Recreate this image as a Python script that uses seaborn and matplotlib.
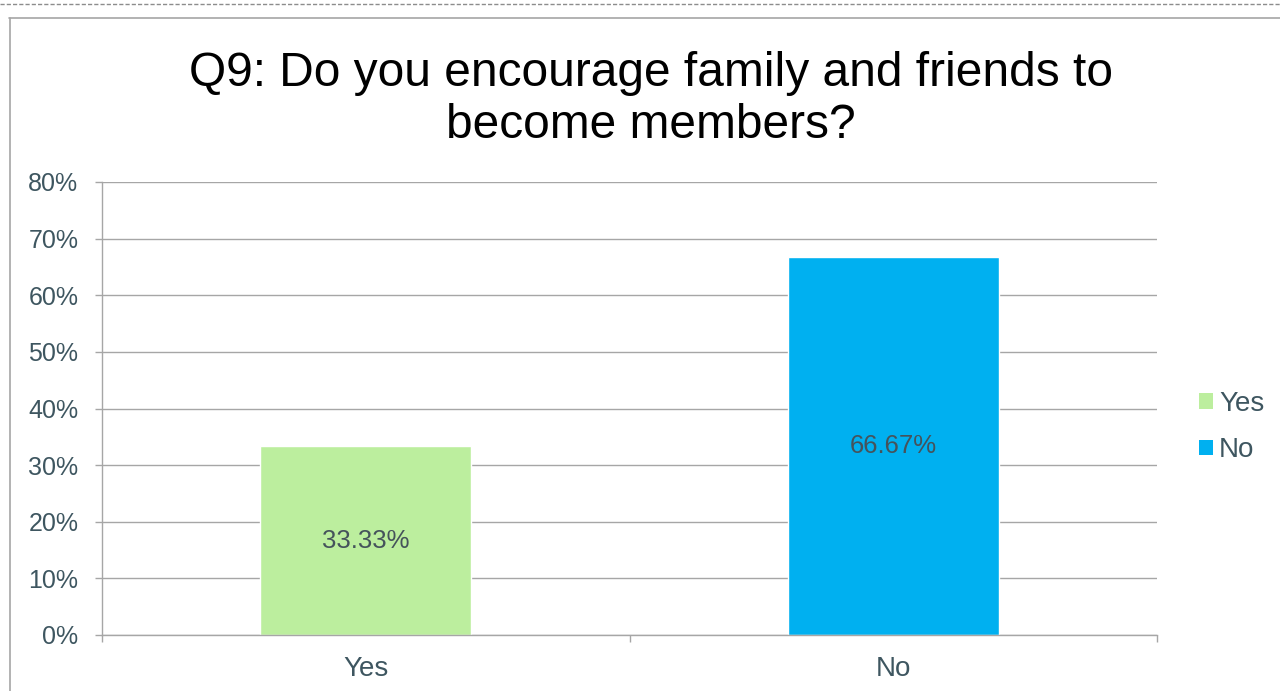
import matplotlib
matplotlib.use("Agg")
import matplotlib.pyplot as plt
import seaborn as sns
import pandas as pd
from matplotlib.lines import Line2D
from matplotlib.patches import Patch
from matplotlib.ticker import FixedLocator, PercentFormatter

categories = ["Yes", "No"]
values = [33.33, 66.67]
value_labels = ["33.33%", "66.67%"]
colors = ["#BCEE9E", "#00B0F0"]
yticks = [0, 10, 20, 30, 40, 50, 60, 70, 80]
title_lines = ["Q9: Do you encourage family and friends to", "become members?"]

sns.set_theme(style="white")
plt.rcParams["font.family"] = ["Liberation Sans", "DejaVu Sans"]

W, H = 1280, 691
fig = plt.figure(figsize=(W / 100, H / 100), dpi=100)
fig.patch.set_facecolor("white")

# frame lines
fig.add_artist(Line2D([0, 1], [1 - 4 / H, 1 - 4 / H], transform=fig.transFigure,
                      color="#8C8C8C", lw=1, ls=(0, (3, 1.5))))
fig.add_artist(Line2D([9 / W, 1], [1 - 17.5 / H, 1 - 17.5 / H], transform=fig.transFigure,
                      color="#A6A6A6", lw=1.2))
fig.add_artist(Line2D([9.5 / W, 9.5 / W], [0, 1 - 17.5 / H], transform=fig.transFigure,
                      color="#A6A6A6", lw=1.2))

left, right, top, bottom = 102, 1157, 182, 635
ax = fig.add_axes([left / W, 1 - bottom / H, (right - left) / W, (bottom - top) / H])

df = pd.DataFrame({"cat": categories, "val": values})
sns.barplot(data=df, x="cat", y="val", hue="cat", palette=colors, width=0.4,
            legend=False, ax=ax, saturation=1)

txt_color = "#3E5660"
grid_color = "#A6A6A6"

ax.set_xlim(-0.5, 1.5)
ax.set_ylim(0, 80)
ax.yaxis.set_major_locator(FixedLocator(yticks))
ax.yaxis.set_major_formatter(PercentFormatter(decimals=0))
ax.set_axisbelow(True)
ax.yaxis.grid(True, color=grid_color, lw=1)
ax.xaxis.grid(False)
for s in ["top", "right"]:
    ax.spines[s].set_visible(False)
for s in ["left", "bottom"]:
    ax.spines[s].set_color(grid_color)
    ax.spines[s].set_linewidth(1)

ax.set_xlabel("")
ax.set_ylabel("")
ax.tick_params(axis="y", which="major", length=5, width=1, color=grid_color,
               labelsize=18, labelcolor=txt_color, pad=12, left=True)
ax.tick_params(axis="x", which="major", length=0, labelsize=20, labelcolor=txt_color, pad=15)
ax.set_xticks([-0.5, 0.5, 1.5], minor=True)
ax.tick_params(axis="x", which="minor", length=5, width=1, color=grid_color, bottom=True)

for i, (v, lab) in enumerate(zip(values, value_labels)):
    ax.text(i, v / 2, lab, ha="center", va="center", fontsize=18.5, color="#45535B")

for i, line in enumerate(title_lines):
    fig.text(651 / W, 1 - (86 + 52 * i) / H, line, ha="center", va="baseline",
             fontsize=34.5, color="black")

handles = [Patch(facecolor=c, edgecolor="none", label=l) for c, l in zip(colors, categories)]
fig.legend(handles=handles, loc="center left", bbox_to_anchor=(1185 / W, 1 - 427 / H),
           frameon=False, fontsize=20, handlelength=0.5, handleheight=0.5,
           handletextpad=0.22, labelspacing=0.75, labelcolor=txt_color, borderpad=0)

fig.savefig("out.png", dpi=100, facecolor="white")
